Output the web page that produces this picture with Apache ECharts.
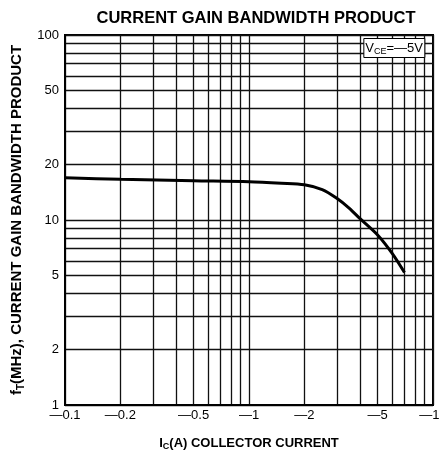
<!DOCTYPE html>
<html>
<head>
<meta charset="utf-8">
<script src="https://cdn.jsdelivr.net/npm/echarts@6/dist/echarts.min.js"></script>
<style>
  html, body { margin: 0; padding: 0; background: #fff; }
  #chart { width: 439px; height: 456px; }
</style>
</head>
<body>
<div id="chart"></div>
<script>
// collector current magnitude (A), drawn as negative values
const icAmps = [0.1, 0.2, 0.5, 1, 1.5, 2, 2.5, 3, 3.5, 4, 5, 6, 7];
// fT (MHz)
const ftMHz = [16.9, 16.6, 16.3, 16.1, 15.8, 15.5, 14.6, 13.1, 11.6, 10.2, 8.3, 6.6, 5.2];

// grid lines and labels
const xGridTicks = [0.1, 0.2, 0.3, 0.4, 0.5, 0.6, 0.7, 0.8, 0.9, 1, 2, 3, 4, 5, 6, 7, 8, 9, 10];
const xLabelTicks = [0.1, 0.2, 0.5, 1, 2, 5, 10];
const yGridTicks = [1, 2, 3, 4, 5, 6, 7, 8, 9, 10, 20, 30, 40, 50, 60, 70, 80, 90, 100];
const yLabelTicks = [1, 2, 5, 10, 20, 50, 100];

const FONT = '"Liberation Sans", Arial, Helvetica, sans-serif';

const chart = echarts.init(document.getElementById('chart'));

const option = {
  animation: false,
  textStyle: { fontFamily: FONT, color: '#000' },
  title: [
    {
      text: 'CURRENT GAIN BANDWIDTH PRODUCT',
      left: 251,
      textAlign: 'center',
      top: 5,
      textStyle: { fontFamily: FONT, fontSize: 16.5, fontWeight: 'bold', color: '#000' }
    },
    {
      text: '{v|V}{s|CE}{v|=—5V}',
      right: 14,
      top: 37,
      backgroundColor: '#fff',
      borderColor: '#000',
      borderWidth: 1,
      padding: [3, 2, 2, 2],
      textStyle: {
        fontWeight: 'normal',
        rich: {
          v: { fontFamily: FONT, fontSize: 13, fontWeight: 'normal', color: '#000', lineHeight: 16 },
          s: { fontFamily: FONT, fontSize: 9, fontWeight: 'normal', color: '#000', lineHeight: 10, verticalAlign: 'bottom' }
        }
      }
    }
  ],
  grid: {
    left: 65,
    right: 6,
    top: 35,
    bottom: 51,
    outerBoundsMode: 'none',
    containLabel: false,
    show: true,
    borderColor: '#000',
    borderWidth: 2,
    backgroundColor: 'transparent'
  },
  xAxis: {
    type: 'log',
    logBase: 10,
    min: 0.1,
    max: 10,
    name: '{n|I}{s|C}{n|(A) COLLECTOR CURRENT}',
    nameLocation: 'middle',
    nameGap: 30,
    nameTextStyle: {
      rich: {
        n: { fontFamily: FONT, fontSize: 13, fontWeight: 'bold', color: '#000', lineHeight: 16 },
        s: { fontFamily: FONT, fontSize: 9, fontWeight: 'bold', color: '#000', lineHeight: 10, verticalAlign: 'bottom' }
      }
    },
    axisLine: { show: true, lineStyle: { color: '#000', width: 2 } },
    axisTick: { show: false, customValues: xGridTicks },
    axisLabel: {
      customValues: xLabelTicks,
      margin: 4,
      fontFamily: FONT,
      fontSize: 13,
      color: '#000',
      hideOverlap: false,
      formatter: v => '—' + v
    },
    splitLine: { show: true, lineStyle: { color: '#111', width: 1.3 } }
  },
  yAxis: {
    type: 'log',
    logBase: 10,
    min: 1,
    max: 100,
    name: '{n|f}{s|T}{n|(MHz), CURRENT GAIN BANDWIDTH PRODUCT}',
    nameLocation: 'middle',
    nameGap: 39,
    nameRotate: 90,
    nameTextStyle: {
      rich: {
        n: { fontFamily: FONT, fontSize: 15, fontWeight: 'bold', color: '#000', lineHeight: 18 },
        s: { fontFamily: FONT, fontSize: 10, fontWeight: 'bold', color: '#000', lineHeight: 11, verticalAlign: 'bottom' }
      }
    },
    axisLine: { show: true, lineStyle: { color: '#000', width: 2 } },
    axisTick: { show: false, customValues: yGridTicks },
    axisLabel: {
      customValues: yLabelTicks,
      margin: 6,
      fontFamily: FONT,
      fontSize: 13,
      color: '#000'
    },
    splitLine: { show: true, lineStyle: { color: '#111', width: 1.3 } }
  },
  series: [
    {
      type: 'line',
      data: icAmps.map((x, i) => [x, ftMHz[i]]),
      smooth: 0.3,
      symbol: 'none',
      lineStyle: { color: '#000', width: 3 },
      z: 3
    }
  ]
};

chart.setOption(option);
</script>
</body>
</html>
